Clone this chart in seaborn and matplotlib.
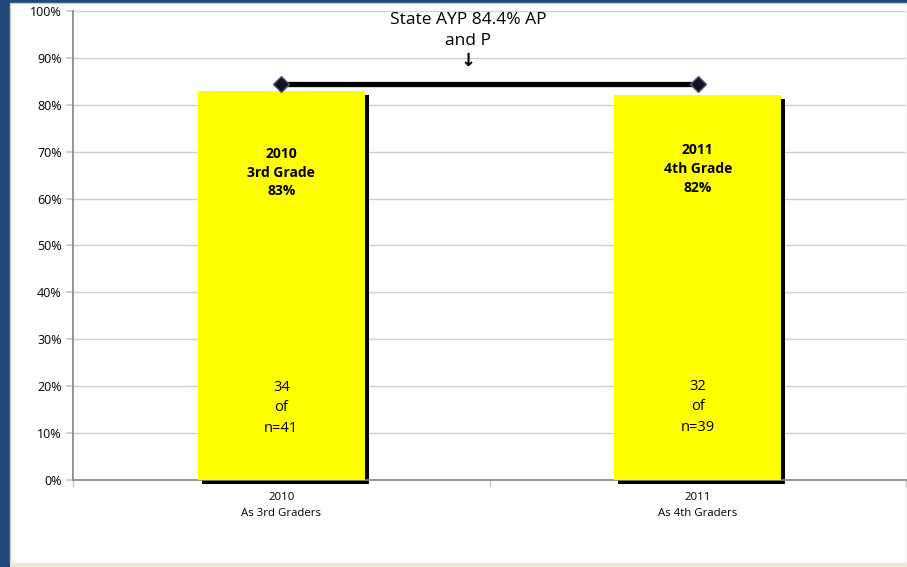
import matplotlib
matplotlib.use("Agg")
import matplotlib.pyplot as plt
import matplotlib.transforms as mtransforms
from matplotlib.patches import Rectangle
import seaborn as sns
import pandas as pd

# ---- data ----
categories = ["2010\nAs 3rd Graders", "2011\nAs 4th Graders"]
values = [83, 82]
top_labels = ["2010\n3rd Grade\n83%", "2011\n4th Grade\n82%"]
count_labels = ["34\nof\nn=41", "32\nof\nn=39"]
state_ayp = 84.4
state_label = "State AYP 84.4% AP\nand P"
yticks = [0, 10, 20, 30, 40, 50, 60, 70, 80, 90, 100]

df = pd.DataFrame({"cat": categories, "val": values})

sns.set_theme(style="white")
plt.rcParams["font.family"] = ["Open Sans", "DejaVu Sans"]
plt.rcParams["text.color"] = "black"
plt.rcParams["xtick.color"] = "black"
plt.rcParams["ytick.color"] = "black"

W, H = 907, 567
fig = plt.figure(figsize=(W / 100, H / 100), dpi=100)
fig.patch.set_facecolor("#1F497D")
# white slide panel
fig.patches.append(Rectangle((10 / W, 4 / H), (W - 10) / W, (H - 7) / H,
                             transform=fig.transFigure, facecolor="white",
                             edgecolor="#C8C8C8", lw=1, zorder=-2))
fig.patches.append(Rectangle((10 / W, 0), (W - 10) / W, 4 / H,
                             transform=fig.transFigure, facecolor="#ECE9D8",
                             edgecolor="none", zorder=-2))

ax = fig.add_axes([73 / W, (H - 480) / H, 833 / W, 469 / H])
ax.set_zorder(1)
ax.set_facecolor("white")

sns.barplot(data=df, x="cat", y="val", color="#FFFF00", saturation=1,
            width=0.40, ax=ax, zorder=3, edgecolor="none")

# drop shadows derived from bars
offset = mtransforms.ScaledTranslation(4 / 100, -4 / 100, fig.dpi_scale_trans)
for p in list(ax.patches):
    sh = Rectangle(p.get_xy(), p.get_width(), p.get_height(),
                   transform=ax.transData + offset, facecolor="black",
                   edgecolor="none", zorder=2, clip_on=False)
    ax.add_patch(sh)

# state AYP line
xs = list(range(len(categories)))
ax.plot(xs, [state_ayp] * len(xs), color="black", lw=3.8, zorder=5,
        marker="D", markersize=8, markerfacecolor="#111122",
        markeredgecolor="#55557a", markeredgewidth=1)

ax.text(0.474, 0.959, state_label, transform=ax.transAxes, ha="center",
        va="center", fontsize=12.5, color="black", linespacing=1.38)
ax.text(0.474, 0.893, "\u2193", transform=ax.transAxes, ha="center",
        va="center", fontsize=13, fontweight="bold", color="black",
        family="DejaVu Sans")

# labels in bars (vertical placement per bar)
top_label_y = [65.5, 66.3]
count_label_y = [15.4, 15.6]
for i, (t, c) in enumerate(zip(top_labels, count_labels)):
    p = ax.patches[i]
    cx = p.get_x() + p.get_width() / 2
    ax.text(cx, top_label_y[i], t, ha="center", va="center",
            fontsize=10, fontweight="bold", zorder=6, linespacing=1.42)
    ax.text(cx, count_label_y[i], c, ha="center", va="center", fontsize=10.5,
            zorder=6, linespacing=1.5)

ax.set_ylim(0, 100)
ax.set_xlim(-0.5, len(categories) - 0.5)
ax.set_yticks(yticks)
ax.set_yticklabels([f"{v}%" for v in yticks], fontsize=9)
ax.yaxis.grid(True, color="#D0D0D0", lw=1, zorder=0)
ax.set_axisbelow(True)
ax.set_xlabel("")
ax.set_ylabel("")
ax.tick_params(axis="x", length=0, labelsize=8.2, pad=9)
ax.tick_params(axis="y", length=5, color="#C8C8C8", pad=3, direction="out",
               left=True)
ax.set_xticks([-0.5, 0.5, 1.5], minor=True)
ax.tick_params(axis="x", which="minor", length=5, color="#C8C8C8",
               direction="out", bottom=True)
for s in ["top", "right"]:
    ax.spines[s].set_visible(False)
ax.spines["left"].set_color("#888888")
ax.spines["bottom"].set_color("#888888")
for lab in ax.get_xticklabels():
    lab.set_linespacing(1.5)

fig.savefig("out.png", dpi=100, facecolor=fig.get_facecolor())
